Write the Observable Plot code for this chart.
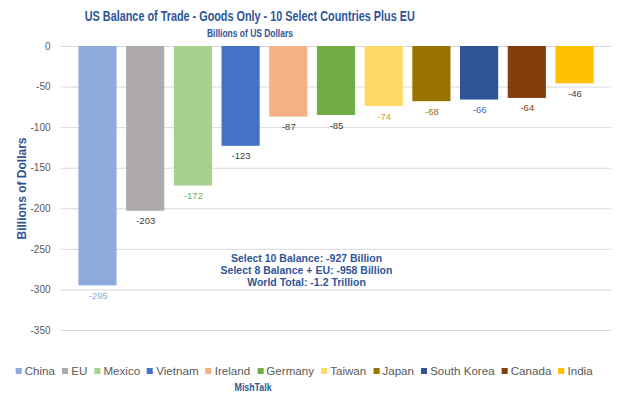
<!DOCTYPE html>
<html>
<head>
<meta charset="utf-8">
<script src="https://cdn.jsdelivr.net/npm/d3@7"></script>
<script src="https://cdn.jsdelivr.net/npm/@observablehq/plot@0.6"></script>
<style>
  html, body { margin: 0; padding: 0; background: #fff; }
  #wrap { position: relative; width: 634px; height: 397px; overflow: hidden; font-family: "Liberation Sans", Arial, sans-serif; }
  .t { position: absolute; white-space: nowrap; transform-origin: 50% 50%; }
  #title { font-size: 14.5px; line-height: 18px; font-weight: bold; color: #2F5597; }
  #subtitle { font-size: 11px; line-height: 14px; font-weight: bold; color: #2F5597; }
  #chart { position: absolute; left: 0; top: 40px; }
  #legend { display: flex; gap: 7px; font-size: 11.5px; line-height: 14px; color: #595959; }
  #legend span.sw { display: inline-block; width: 6px; height: 6px; margin-right: 3px; vertical-align: 1px; }
  #caption { font-size: 10.5px; line-height: 13px; font-weight: bold; color: #2F5597; }
</style>
</head>
<body>
<div id="wrap">
  <div id="title" class="t"></div>
  <div id="subtitle" class="t"></div>
  <div id="chart"></div>
  <div id="legend" class="t"></div>
  <div id="caption" class="t"></div>
</div>
<script>
const titleText = "US Balance of Trade - Goods Only - 10 Select Countries Plus EU";
const subtitleText = "Billions of US Dollars";
const yAxisLabel = "Billions of Dollars";
const captionText = "MishTalk";
const countries = ["China", "EU", "Mexico", "Vietnam", "Ireland", "Germany", "Taiwan", "Japan", "South Korea", "Canada", "India"];
const balances = [-295, -203, -172, -123, -87, -85, -74, -68, -66, -64, -46];
const barColors = ["#8FAADC", "#AEAAAA", "#A9D18E", "#4472C4", "#F4B183", "#70AD47", "#FFD966", "#997300", "#2F5597", "#843C0C", "#FFC000"];
const labelColors = ["#8FAADC", "#404040", "#70AD47", "#404040", "#404040", "#404040", "#C9A227", "#997300", "#4472C4", "#843C0C", "#404040"];
const yTicks = [0, -50, -100, -150, -200, -250, -300, -350];
const noteLines = ["Select 10 Balance: -927 Billion", "Select 8 Balance + EU: -958 Billion", "World Total: -1.2 Trillion"];

const data = countries.map((c, i) => ({country: c, value: balances[i], color: barColors[i], labelColor: labelColors[i]}));

document.getElementById("title").textContent = titleText;
document.getElementById("subtitle").textContent = subtitleText;
document.getElementById("caption").textContent = captionText;

const legend = document.getElementById("legend");
countries.forEach((c, i) => {
  const item = document.createElement("span");
  const sw = document.createElement("span");
  sw.className = "sw";
  sw.style.background = barColors[i];
  item.appendChild(sw);
  item.appendChild(document.createTextNode(c));
  legend.appendChild(item);
});

// fit a text block to the reference's measured extent (Calibri is narrower than the available fonts)
function fit(id, cx, cy, targetWidth) {
  const el = document.getElementById(id);
  el.style.left = "0px";
  el.style.top = "0px";
  const r = el.getBoundingClientRect();
  el.style.left = (cx - r.width / 2) + "px";
  el.style.top = (cy - r.height / 2) + "px";
  el.style.transform = "scaleX(" + (targetWidth / r.width) + ")";
}
fit("title", 250, 16, 330);
fit("subtitle", 250, 32.5, 86);
fit("legend", 304.5, 371, 577);
fit("caption", 253.5, 387, 37);

const chart = Plot.plot({
  width: 634,
  height: 315,
  marginLeft: 61,
  marginRight: 23,
  marginTop: 6,
  marginBottom: 25,
  style: {fontFamily: "'Liberation Sans', sans-serif", color: "#595959", background: "transparent"},
  color: {type: "identity"},
  x: {domain: countries, paddingInner: 0.2, paddingOuter: 0.365, round: false, axis: null},
  y: {domain: [-350, 0], ticks: yTicks, tickSize: 0, tickPadding: 11, tickFormat: d => String(d), label: null, fontSize: 10},
  marks: [
    Plot.ruleY(yTicks, {stroke: "#D9D9D9", strokeWidth: 1}),
    Plot.barY(data, {x: "country", y: "value", fill: "color", inset: 0}),
    Plot.text(data, {x: "country", y: "value", text: d => String(d.value), dy: 10, fill: "labelColor", fontSize: 9.5}),
    Plot.text([yAxisLabel], {frameAnchor: "left", textAnchor: "middle", rotate: -90, dx: -39, fill: "#2F5597", fontWeight: "bold", fontSize: 12}),
    Plot.text([noteLines.join("\n")], {frameAnchor: "middle", dx: -30, dy: 82, lineHeight: 1.15, fill: "#2F5597", fontWeight: "bold", fontSize: 10.5})
  ]
});
document.getElementById("chart").appendChild(chart);
</script>
</body>
</html>
